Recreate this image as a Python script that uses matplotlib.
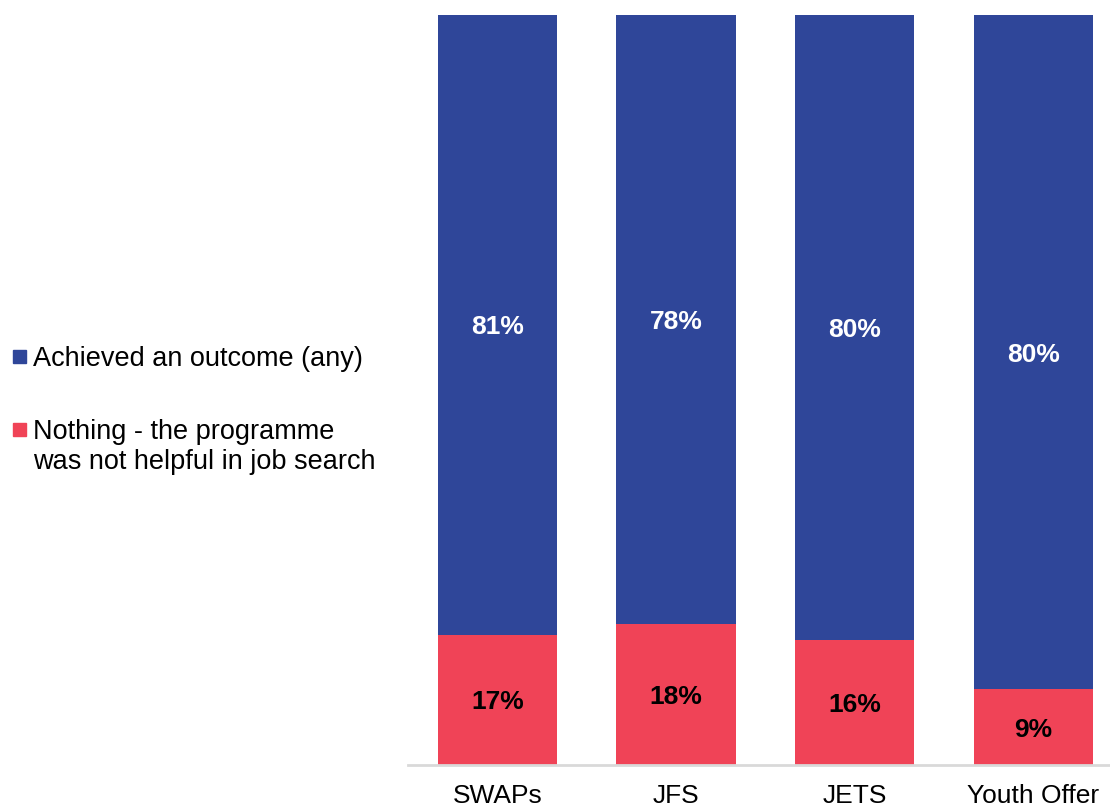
import numpy as np
import matplotlib.pyplot as plt
from matplotlib.patches import Rectangle

plt.rcParams['font.family'] = ['Liberation Sans', 'DejaVu Sans']

programmes = ['SWAPs', 'JFS', 'JETS', 'Youth Offer']
achieved = np.array([81, 78, 80, 80])
nothing = np.array([17, 18, 16, 9])
labels = ['Achieved an outcome (any)',
          'Nothing - the programme\nwas not helpful in job search']

blue = '#2F4699'
red = '#F04357'

# stacked to 100% of each programme's total
total = achieved + nothing
nothing_h = nothing / total * 100
achieved_h = achieved / total * 100

W, H = 1110, 807
fig = plt.figure(figsize=(W / 100, H / 100), dpi=100)
ax = fig.add_axes([408 / W, 42 / H, 702 / W, 750 / H])

x = np.arange(len(programmes))
w = 0.667
ax.bar(x, nothing_h, w, color=red)
ax.bar(x, achieved_h, w, bottom=nothing_h, color=blue)

for i in range(len(x)):
    ax.text(x[i], nothing_h[i] / 2, f'{nothing[i]}%', ha='center', va='center_baseline',
            fontsize=19, fontweight='bold', color='black')
    ax.text(x[i], nothing_h[i] + achieved_h[i] / 2, f'{achieved[i]}%',
            ha='center', va='center_baseline', fontsize=19, fontweight='bold', color='white')

ax.set_xlim(-0.5, 3.43)
ax.set_ylim(0, 100)
ax.set_xticks(x)
ax.set_xticklabels(programmes, fontsize=19)
ax.tick_params(axis='x', length=0, pad=14)
ax.set_yticks([])
for s in ['top', 'left', 'right']:
    ax.spines[s].set_visible(False)
ax.spines['bottom'].set_color('#D9D9D9')
ax.spines['bottom'].set_linewidth(2)

# legend on the left, square markers next to the first line of each label
for col, lab, top in zip([blue, red], labels, [346, 419]):
    fig.add_artist(Rectangle((13 / W, 1 - (top + 17) / H), 13 / W, 13 / H,
                             transform=fig.transFigure, color=col))
    fig.text(33 / W, 1 - top / H, lab, ha='left', va='top', fontsize=19.5,
             linespacing=1.2)

fig.savefig('out.png', dpi=100)
